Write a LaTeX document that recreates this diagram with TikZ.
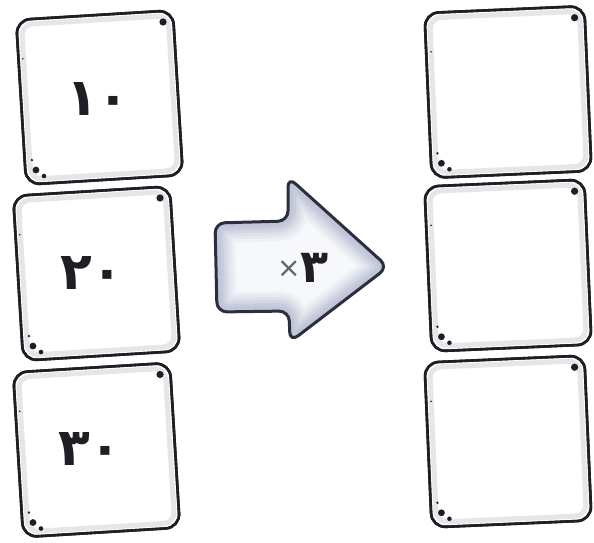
\documentclass[tikz,border=0pt]{standalone}
\usepackage{fontspec}
\newfontfamily\fa[Script=Arabic]{DejaVu Sans}
\usetikzlibrary{calc}
\definecolor{ink}{HTML}{1E1E24}
\definecolor{arrowink}{HTML}{2B2E3C}
\definecolor{arrowfill}{HTML}{F7F8FB}
\definecolor{arrowglow}{HTML}{BCC2D4}
\definecolor{cardglow}{HTML}{E6E6E8}
\begin{document}
\begin{tikzpicture}[x=1pt,y=-1pt,
  card/.style={draw=ink, line width=2.6pt, rounded corners=14pt, fill=white,
    minimum width=157pt, minimum height=165pt, inner sep=0pt},
  cardglow/.style={draw=cardglow, line width=5pt, rounded corners=11pt,
    minimum width=147pt, minimum height=155pt, inner sep=0pt},
  num/.style={font=\fa\bfseries\fontsize{52}{52}\selectfont, text=ink},
  smudge/.style={fill=ink}]
\useasboundingbox (0,0) rectangle (594,542);
% left cards
\node[card, rotate=3.5] (L1) at (99.5,97.5) {};
\node[card, rotate=3.5] (L2) at (96.5,273.5) {};
\node[card, rotate=3.5] (L3) at (96.5,450) {};
% right cards
\node[card, rotate=2.5, minimum width=160pt] (R1) at (508,92) {};
\node[card, rotate=2.5, minimum width=160pt] (R2) at (508,265.5) {};
\node[card, rotate=2.5, minimum width=160pt] (R3) at (508,441.5) {};
% inner glows and corner smudges
\foreach \c/\r/\w in {L1/3.5/147,L2/3.5/147,L3/3.5/147,R1/2.5/150,R2/2.5/150,R3/2.5/150}{
  \node[cardglow, rotate=\r, minimum width=\w pt] (g\c) at (\c.center) {};
  \node[card, fill=none, rotate=\r, minimum width=\w pt+10pt] (o\c) at (\c.center) {};
  \fill[smudge] ($(\c.south west)+(11,-16)$) circle (3.4);
  \fill[smudge] ($(\c.south west)+(19,-10)$) circle (2.3);
  \fill[smudge] ($(\c.south west)+(7,-26)$) circle (1.3);
  \fill[smudge] ($(\c.north east)+(-11,13)$) circle (3.6);
  \fill[smudge] ($(\c.north west)+(8,40)$) circle (0.9);
}
% numbers
\node[num] (n1) at (98,99) {۱۰};
\node[num] (n2) at (92,273) {۲۰};
\node[num] (n3) at (90,449) {۳۰};
% arrow
\coordinate (a1) at (215,223);
\coordinate (a2) at (288,221);
\coordinate (a3) at (288,177);
\coordinate (a4) at (388,267);
\coordinate (a5) at (290,342);
\coordinate (a6) at (289,311);
\coordinate (a7) at (217,312);
\def\arrowpath{(a1) -- (a2) -- (a3) -- (a4) -- (a5) -- (a6) -- (a7) -- cycle}
\path[fill=arrowfill, rounded corners=10pt,
  path picture={
    \foreach \lw/\op in {40/0.12,34/0.15,28/0.2,22/0.3,16/0.45,10/0.6}{
      \draw[arrowglow, line width=\lw pt, rounded corners=10pt, opacity=\op]
        (a1) -- (a2) -- (a3) -- (a4) -- (a5) -- (a6) -- (a7) -- cycle;}}]
  (a1) -- (a2) -- (a3) -- (a4) -- (a5) -- (a6) -- (a7) -- cycle;
\path[draw=arrowink, line width=3pt, rounded corners=10pt]
  (a1) -- (a2) -- (a3) -- (a4) -- (a5) -- (a6) -- (a7) -- cycle;
\node[inner sep=0pt] (m) at (303,268)
  {\raisebox{5pt}{\fa\fontsize{28}{28}\selectfont\color{arrowink!75}×}{\fa\bfseries\fontsize{46}{46}\selectfont\color{ink}۳}};
\end{tikzpicture}
\end{document}
